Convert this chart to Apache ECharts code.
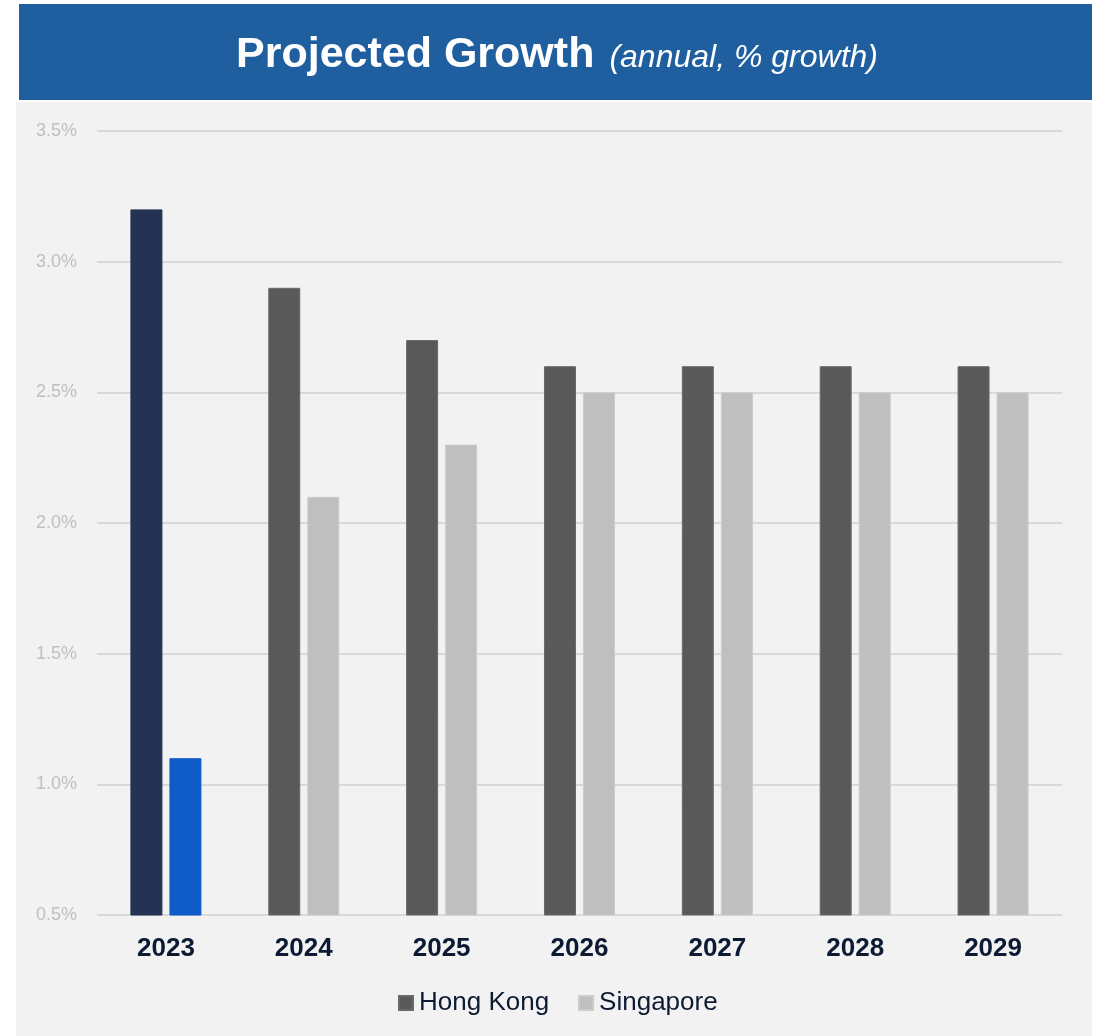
<!DOCTYPE html>
<html>
<head>
<meta charset="utf-8">
<title>Projected Growth</title>
<script src="https://cdn.jsdelivr.net/npm/echarts@6/dist/echarts.min.js"></script>
<style>
  html, body { margin: 0; padding: 0; background: #ffffff; }
  #chart { width: 1099px; height: 1036px; }
</style>
</head>
<body>
<div id="chart"></div>
<script>
// Projected annual growth, in percent
const years = ['2023', '2024', '2025', '2026', '2027', '2028', '2029'];
const hongKong = [3.2, 2.9, 2.7, 2.6, 2.6, 2.6, 2.6];
const singapore = [1.1, 2.1, 2.3, 2.5, 2.5, 2.5, 2.5];
const yTicks = [0.5, 1.0, 1.5, 2.0, 2.5, 3.0, 3.5];

const FONT = '"Liberation Sans", Arial, sans-serif';
const HK_COLOR = '#595959';
const SG_COLOR = '#BFBFBF';
// The current year is highlighted in colour
const HK_HIGHLIGHT = '#243354';
const SG_HIGHLIGHT = '#0F5BC9';

function withHighlight(values, highlight) {
  return values.map((v, i) => i === 0
    ? { value: v, itemStyle: { color: highlight, borderColor: highlight } }
    : v);
}

const chart = echarts.init(document.getElementById('chart'), null, { renderer: 'canvas' });

chart.setOption({
  backgroundColor: '#ffffff',
  animation: false,
  graphic: [
    { type: 'rect', z: -10, shape: { x: 16, y: 102, width: 1076, height: 934 }, style: { fill: '#F2F2F2' } },
    { type: 'rect', z: -10, shape: { x: 19, y: 4, width: 1073, height: 96 }, style: { fill: '#1F5F9F' } },
    {
      type: 'text', x: 557, y: 55,
      style: {
        text: '{b|Projected Growth}{i|(annual, % growth)}',
        align: 'center', verticalAlign: 'middle',
        rich: {
          b: { fontFamily: FONT, fontSize: 43, fontWeight: 'bold', fill: '#ffffff' },
          i: { fontFamily: FONT, fontSize: 32, fontStyle: 'italic', fill: '#ffffff', padding: [6, 0, 0, 15] }
        }
      }
    }
  ],
  grid: { left: 97, right: 37, top: 131, bottom: 121, containLabel: false },
  legend: {
    bottom: 15, left: 393,
    itemWidth: 14, itemHeight: 14, itemGap: 29,
    icon: 'rect',
    textStyle: { fontFamily: FONT, fontSize: 26, color: '#0E1B33', padding: [0, 0, 0, 1] },
    data: ['Hong Kong', 'Singapore']
  },
  xAxis: {
    type: 'category',
    data: years,
    axisLine: { show: false },
    axisTick: { show: false },
    axisLabel: { fontFamily: FONT, fontSize: 26, fontWeight: 'bold', color: '#0D1A33', margin: 21 }
  },
  yAxis: {
    type: 'value',
    min: yTicks[0], max: yTicks[yTicks.length - 1], interval: 0.5,
    axisLine: { show: false },
    axisTick: { show: false },
    splitLine: { lineStyle: { color: '#D9D9D9', width: 2 } },
    axisLabel: {
      fontFamily: FONT, fontSize: 18, color: '#BFBFBF', margin: 20,
      formatter: v => v.toFixed(1) + '%'
    }
  },
  series: [
    {
      name: 'Hong Kong', type: 'bar',
      data: withHighlight(hongKong, HK_HIGHLIGHT),
      barWidth: 32, barGap: '22%',
      itemStyle: { color: HK_COLOR, borderColor: '#6A6A6A', borderWidth: 1 }
    },
    {
      name: 'Singapore', type: 'bar',
      data: withHighlight(singapore, SG_HIGHLIGHT),
      barWidth: 32, barGap: '22%',
      itemStyle: { color: SG_COLOR, borderColor: '#CCCCCC', borderWidth: 1 }
    }
  ]
});
</script>
</body>
</html>
